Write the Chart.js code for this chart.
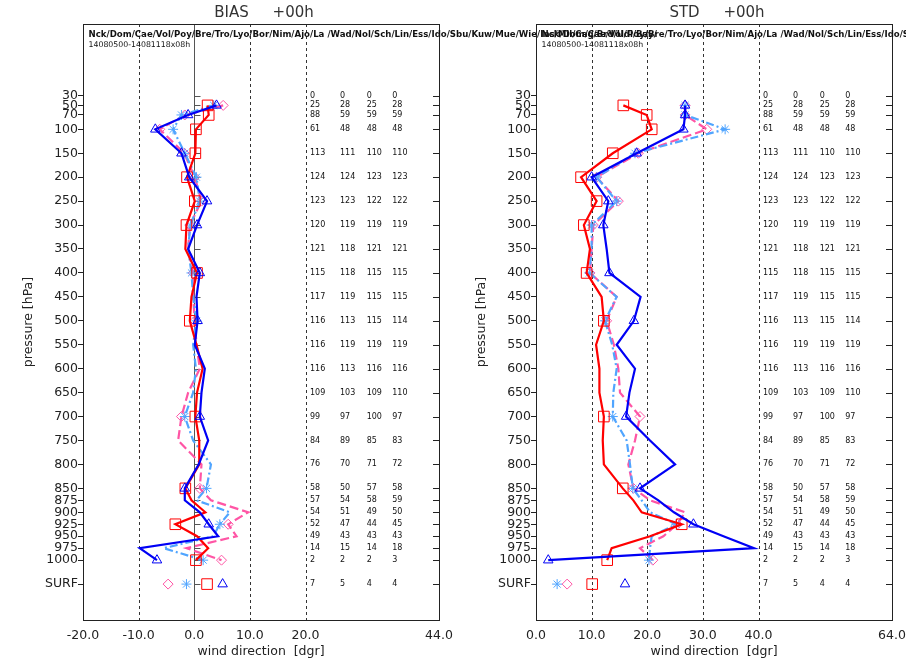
<!DOCTYPE html>
<html>
<head>
<meta charset="utf-8">
<title>wind direction BIAS / STD</title>
<script src="https://cdn.jsdelivr.net/npm/chart.js@4.4.1/dist/chart.umd.min.js"></script>
<style>
  html, body { margin: 0; padding: 0; background: #fff; overflow: hidden; }
  #wrap { position: relative; width: 906px; height: 662px; }
  #bias { position: absolute; left: 0; top: 0; width: 906px; height: 662px; }
  #std { position: absolute; left: 453px; top: 0; width: 453px; height: 662px; }
</style>
</head>
<body>
<div id="wrap">
  <canvas id="bias" width="906" height="662"></canvas>
  <canvas id="std" width="453" height="662"></canvas>
</div>
<script>
// pressure levels (hPa); SURF is plotted below 1000
const levels = [30, 50, 70, 100, 150, 200, 250, 300, 350, 400, 450, 500, 550, 600,
                650, 700, 750, 800, 850, 875, 900, 925, 950, 975, 1000];
const surfLevel = 1050;
const markedLevels = [50, 70, 100, 150, 200, 250, 300, 400, 500, 700, 850, 925, 1000];

const stations = 'Nck/Dom/Cae/Vol/Poy/Bre/Tro/Lyo/Bor/Nim/Ajo/La /Wad/Nol/Sch/Lin/Ess/Ido/Sbu/Kuw/Mue/Wie/Ins/Mil/Cag/Brd/Udi/Bay/';
const period = '14080500-14081118x08h';

// number of observations per level, one column per experiment (last row = SURF)
const counts = [
  [0, 0, 0, 0], [25, 28, 25, 28], [88, 59, 59, 59], [61, 48, 48, 48],
  [113, 111, 110, 110], [124, 124, 123, 123], [123, 123, 122, 122],
  [120, 119, 119, 119], [121, 118, 121, 121], [115, 118, 115, 115],
  [117, 119, 115, 115], [116, 113, 115, 114], [116, 119, 119, 119],
  [116, 113, 116, 116], [109, 103, 109, 110], [99, 97, 100, 97],
  [84, 89, 85, 83], [76, 70, 71, 72], [58, 50, 57, 58], [57, 54, 58, 59],
  [54, 51, 49, 50], [52, 47, 44, 45], [49, 43, 43, 43], [14, 15, 14, 18],
  [2, 2, 2, 3], [7, 5, 4, 4]
];

// BIAS [dgr]
const biasRed   = [null, 2.4, 2.6, 0.3, 0.2, -1.3, 0.1, -1.4, -1.6, 0.5, -0.5, -0.8, 0.4, 1.5,
                   0.5, 0.2, 0.9, 0.9, -1.6, -0.5, 2.0, -3.4, 0.5, 2.5, 0.3];
const biasBlue  = [null, 4.0, -1.1, -7.0, -2.3, -0.9, 2.3, 0.5, -1.1, 1.0, 0.4, 0.6, 0.1, 1.9,
                   1.3, 1.0, 2.5, 0.8, -1.7, -1.7, 1.0, 2.6, 4.3, -9.8, -6.7];
const biasLight = [null, 3.5, -2.3, -3.8, -1.7, 0.4, 1.0, -0.7, -1.1, -0.5, -0.2, 0.4, -0.2, 0.3,
                   -0.2, -1.7, -0.2, 3.0, 2.2, 0.4, 6.4, 4.6, 3.4, -5.5, 1.6];
const biasPink  = [null, 5.2, -1.7, -6.2, -1.8, 0.1, 1.3, -0.8, -1.1, -0.2, -0.2, 0.1, 0.4, 1.0,
                   -1.1, -2.3, -2.9, 1.3, 1.0, 3.0, 9.7, 6.1, 7.6, -1.4, 4.9];
const biasSurf  = [2.3, 5.1, -1.4, -4.7];

// STD [dgr]
const stdRed    = [null, 15.7, 19.9, 20.8, 13.8, 8.1, 10.9, 8.6, 9.7, 9.1, 11.8, 12.2, 10.8, 11.4,
                   11.4, 12.2, 12.0, 12.2, 15.6, 17.5, 19.0, 26.2, 20.5, 13.6, 12.8];
const stdBlue   = [null, 26.8, 26.8, 26.5, 18.1, 10.0, 13.0, 12.1, 12.7, 13.2, 18.8, 17.6, 14.5, 17.8,
                   16.8, 16.2, 20.5, 25.0, 18.7, 22.0, 24.8, 28.3, 33.7, 39.2, 2.2];
const stdLight  = [null, 26.8, 26.8, 34.0, 17.8, 10.9, 14.5, 10.0, 10.0, 9.6, 14.5, 12.4, 13.7, 14.5,
                   13.9, 13.8, 16.3, 16.9, 17.4, 19.0, 20.5, 25.2, 20.8, 20.5, 20.3];
const stdPink   = [null, 26.8, 26.8, 30.7, 18.4, 10.9, 14.8, 10.3, 10.0, 9.7, 14.5, 12.7, 14.0, 14.8,
                   15.1, 18.7, 17.8, 16.6, 17.5, 20.5, 26.8, 25.4, 22.9, 18.7, 21.0];
const stdSurf   = [10.1, 16.0, 3.8, 5.6];

const biasTicks = [-20, -10, 0, 10, 20, 44];
const stdTicks = [0, 10, 20, 30, 40, 64];

// line styles: red, blue, light blue, pink
const styles = [
  { color: 'rgb(255,0,0)',     marker: 'rect',     r: 7.5, dash: [],           order: 1 },
  { color: 'rgb(0,0,245)',     marker: 'triangle', r: 5.5, dash: [],           order: 0 },
  { color: 'rgb(80,165,255)',  marker: 'star',     r: 5,   dash: [8, 3, 2, 3], order: 2 },
  { color: 'rgb(255,85,165)',  marker: 'rectRot',  r: 5,   dash: [9, 4],       order: 3 }
];

const FONT = 'DejaVu Sans';
const TXT = '#222';

function buildDatasets(series, surf) {
  const out = [];
  series.forEach((vals, i) => {
    const s = styles[i];
    out.push({
      data: levels.map((p, j) => ({ x: vals[j], y: p })).filter(d => d.x !== null),
      showLine: true,
      borderColor: s.color,
      borderWidth: 2.2,
      borderDash: s.dash,
      pointStyle: s.marker,
      pointRadius: ctx => (ctx.raw && markedLevels.includes(ctx.raw.y)) ? s.r : 0,
      pointBorderColor: s.color,
      pointBorderWidth: 1,
      pointBackgroundColor: 'rgba(0,0,0,0)',
      order: s.order
    });
    out.push({
      data: [{ x: surf[i], y: surfLevel }],
      showLine: false,
      pointStyle: s.marker,
      pointRadius: s.r,
      pointBorderColor: s.color,
      pointBorderWidth: 1,
      pointBackgroundColor: 'rgba(0,0,0,0)',
      order: s.order
    });
  });
  return out;
}

// frame, reference lines, counts and header text
const panelDecor = {
  id: 'panelDecor',
  beforeDatasetsDraw(chart, args, o) {
    const { ctx, chartArea: a, scales: { x } } = chart;
    ctx.save();
    ctx.lineWidth = 1;
    ctx.strokeStyle = '#333';
    ctx.setLineDash([3, 3]);
    o.dashed.forEach(v => {
      const px = Math.round(x.getPixelForValue(v)) + 0.5;
      ctx.beginPath(); ctx.moveTo(px, a.top); ctx.lineTo(px, a.bottom); ctx.stroke();
    });
    ctx.setLineDash([]);
    if (o.zero) {
      const px = Math.round(x.getPixelForValue(0)) + 0.5;
      ctx.strokeStyle = '#555';
      ctx.beginPath(); ctx.moveTo(px, a.top); ctx.lineTo(px, a.bottom); ctx.stroke();
      const ys = chart.scales.y;
      [...levels, surfLevel].forEach(p => {
        const py = Math.round(ys.getPixelForValue(p)) + 0.5;
        ctx.beginPath(); ctx.moveTo(px, py); ctx.lineTo(px + 6, py); ctx.stroke();
      });
    }
    ctx.restore();
  },
  afterDraw(chart, args, o) {
    const { ctx, chartArea: a, scales: { x, y } } = chart;
    ctx.save();
    // frame
    ctx.strokeStyle = '#222';
    ctx.lineWidth = 1;
    ctx.strokeRect(Math.round(a.left) + 0.5, Math.round(a.top) + 0.5,
                   Math.round(a.right - a.left), Math.round(a.bottom - a.top));
    // inner ticks on the right axis
    [...levels, surfLevel].forEach(p => {
      const py = Math.round(y.getPixelForValue(p)) + 0.5;
      ctx.beginPath(); ctx.moveTo(a.right - 6, py); ctx.lineTo(a.right, py); ctx.stroke();
    });
    // title
    ctx.fillStyle = '#333';
    ctx.font = `15px "${FONT}"`;
    ctx.textAlign = 'center';
    ctx.textBaseline = 'middle';
    ctx.fillText(o.title, (a.left + a.right) / 2 + 3, 13);
    // header
    ctx.fillStyle = '#111';
    ctx.textAlign = 'left';
    ctx.font = `bold 8.6px "${FONT}"`;
    ctx.fillText(stations, a.left + 5.5, 35);
    ctx.font = `7.8px "${FONT}"`;
    ctx.fillText(period, a.left + 5.5, 44.5);
    // observation counts
    ctx.font = `8px "${FONT}"`;
    const rows = [...levels, surfLevel];
    counts.forEach((row, i) => {
      const py = y.getPixelForValue(rows[i]);
      row.forEach((n, k) => {
        ctx.fillText(String(n), x.getPixelForValue(x.min + o.countCols[k]), py);
      });
    });
    ctx.restore();
  }
};

function makePanel(id, cfg) {
  const padRight = cfg.canvasWidth - 439;
  return new Chart(document.getElementById(id), {
    type: 'scatter',
    data: { datasets: buildDatasets(cfg.series, cfg.surf) },
    options: {
      responsive: false,
      animation: false,
      events: [],
      layout: { padding: { left: 0, right: padRight, top: 24, bottom: 0 } },
      plugins: {
        legend: { display: false },
        tooltip: { enabled: false },
        panelDecor: {
          title: cfg.title,
          dashed: cfg.dashed,
          zero: cfg.zero,
          countCols: [40.8, 46.2, 51.0, 55.6]
        }
      },
      scales: {
        x: {
          type: 'linear',
          min: cfg.ticks[0],
          max: cfg.ticks[cfg.ticks.length - 1],
          afterBuildTicks: sc => { sc.ticks = cfg.ticks.map(v => ({ value: v })); },
          afterFit: sc => { sc.height = 42; sc.paddingLeft = 0; sc.paddingRight = 0; },
          grid: { display: false, drawTicks: false, drawOnChartArea: false },
          border: { display: false },
          ticks: {
            autoSkip: false, maxRotation: 0, padding: 8, color: TXT,
            font: { family: FONT, size: 12.5 },
            callback: v => v.toFixed(1)
          },
          title: {
            display: true, text: 'wind direction  [dgr]', color: TXT,
            font: { family: FONT, size: 12.5 },
            padding: { top: 0, bottom: 3 }
          }
        },
        y: {
          type: 'linear',
          reverse: true,
          min: -120,
          max: 1125,
          afterBuildTicks: sc => { sc.ticks = [...levels, surfLevel].map(v => ({ value: v })); },
          afterFit: sc => { sc.width = 83; sc.paddingTop = 0; sc.paddingBottom = 0; },
          grid: { drawOnChartArea: false, drawTicks: true, tickLength: 5, color: '#222' },
          border: { display: false },
          ticks: {
            autoSkip: false, padding: 0, color: TXT,
            font: { family: FONT, size: 12.5 },
            callback: v => v === surfLevel ? 'SURF' : String(v)
          },
          title: {
            display: true, text: 'pressure [hPa]', color: TXT,
            font: { family: FONT, size: 12.5 },
            padding: { top: 21, bottom: 0 }
          }
        }
      }
    },
    plugins: [panelDecor]
  });
}

makePanel('bias', {
  canvasWidth: 906,
  title: 'BIAS     +00h',
  ticks: biasTicks,
  dashed: [-10, 10, 20],
  zero: true,
  series: [biasRed, biasBlue, biasLight, biasPink],
  surf: biasSurf
});

makePanel('std', {
  canvasWidth: 453,
  title: 'STD     +00h',
  ticks: stdTicks,
  dashed: [10, 20, 30, 40],
  zero: false,
  series: [stdRed, stdBlue, stdLight, stdPink],
  surf: stdSurf
});
</script>
</body>
</html>
